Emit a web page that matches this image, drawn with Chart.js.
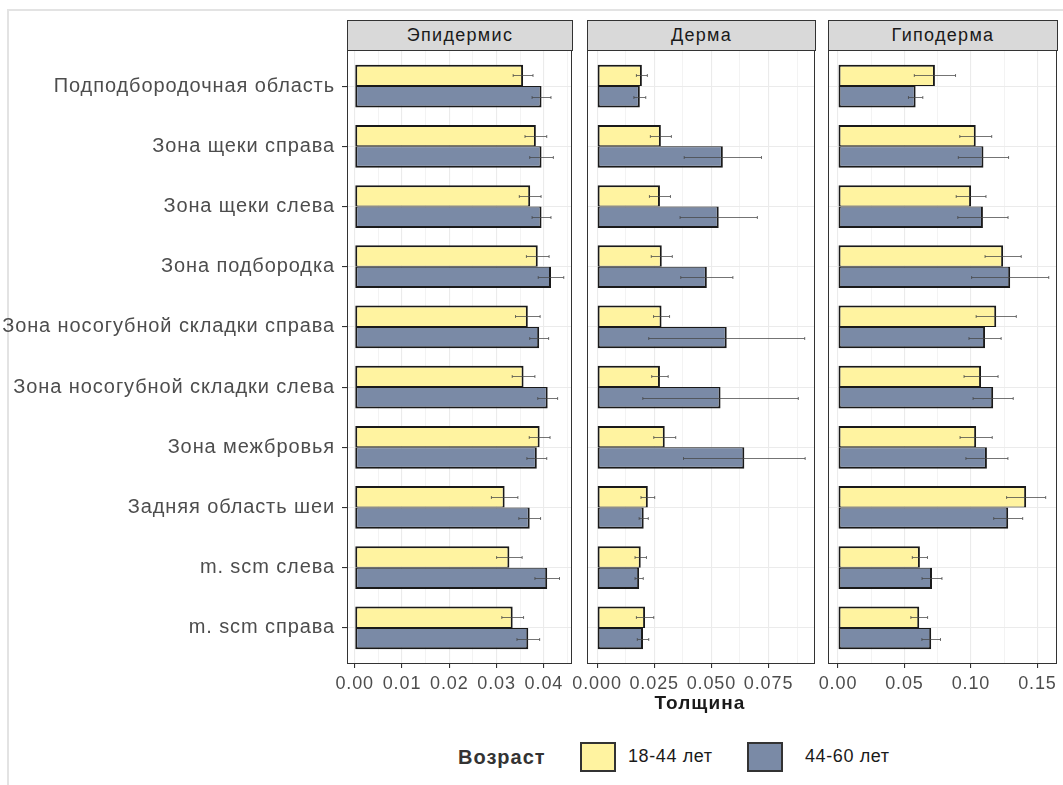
<!DOCTYPE html>
<html>
<head>
<meta charset="utf-8">
<script src="https://cdn.jsdelivr.net/npm/chart.js@4/dist/chart.umd.min.js"></script>
<style>
  html, body { margin: 0; padding: 0; background: #fff; }
  body { width: 1063px; height: 785px; position: relative; overflow: hidden;
         font-family: "Liberation Sans", Arial, sans-serif; }
  .frame { position: absolute; left: 7px; top: 9px; right: -4px; bottom: -4px;
           border-left: 2px solid #e3e3e3; border-top: 2px solid #e3e3e3; }
  canvas { position: absolute; }
  .strip { position: absolute; top: 20px; height: 31px; background: #d9d9d9;
           border: 1px solid #333; box-sizing: border-box; display: flex;
           align-items: center; justify-content: center; font-size: 18px;
           letter-spacing: 1.3px; color: #1a1a1a; }
  .axis-title { position: absolute; left: 600px; width: 200px; top: 692px; text-align: center;
                font-size: 19px; letter-spacing: 1.1px; font-weight: bold; color: #1a1a1a; }
  .legend-title { position: absolute; left: 458px; top: 746px; font-size: 20px; letter-spacing: 1px;
                  font-weight: bold; color: #333; }
  .key { position: absolute; top: 742px; width: 36px; height: 30px; box-sizing: border-box;
         border: 2px solid #333; }
  .key-label { position: absolute; top: 746px; font-size: 18px; letter-spacing: 0.6px; color: #1a1a1a; }
</style>
</head>
<body>
<div class="frame"></div>

<div class="strip" style="left:347px;width:226px">Эпидермис</div>
<div class="strip" style="left:587px;width:229px">Дерма</div>
<div class="strip" style="left:828px;width:230px">Гиподерма</div>

<canvas id="epid" width="575" height="664" style="left:0;top:40px"></canvas>
<canvas id="derma" width="258" height="664" style="left:560px;top:40px"></canvas>
<canvas id="hypo" width="259" height="664" style="left:801px;top:40px"></canvas>

<div class="axis-title">Толщина</div>

<div class="legend-title">Возраст</div>
<div class="key" id="keyYoung" style="left:580px"></div>
<div class="key-label" style="left:628px">18-44 лет</div>
<div class="key" id="keyOld" style="left:747px"></div>
<div class="key-label" style="left:805px">44-60 лет</div>

<script>
// Skin zones, top to bottom
const categories = [
  'Подподбородочная область',
  'Зона щеки справа',
  'Зона щеки слева',
  'Зона подбородка',
  'Зона носогубной складки справа',
  'Зона носогубной складки слева',
  'Зона межбровья',
  'Задняя область шеи',
  'm. scm слева',
  'm. scm справа'
];
const groupNames = ['18-44 лет', '44-60 лет'];

// Epidermis thickness: means and error half-widths
const epidYoung    = [0.0356, 0.0383, 0.0371, 0.0387, 0.0366, 0.0357, 0.0391, 0.0317, 0.0327, 0.0334];
const epidYoungErr = [0.0021, 0.0023, 0.0023, 0.0024, 0.0026, 0.0024, 0.0022, 0.0028, 0.0027, 0.0023];
const epidOld      = [0.0395, 0.0395, 0.0395, 0.0415, 0.0390, 0.0408, 0.0385, 0.0370, 0.0407, 0.0367];
const epidOldErr   = [0.0020, 0.0025, 0.0020, 0.0027, 0.0020, 0.0021, 0.0021, 0.0023, 0.0026, 0.0024];

// Dermis
const dermaYoung    = [0.0196, 0.0279, 0.0275, 0.0283, 0.0282, 0.0275, 0.0296, 0.0222, 0.0191, 0.0210];
const dermaYoungErr = [0.0024, 0.0046, 0.0046, 0.0046, 0.0035, 0.0036, 0.0048, 0.0030, 0.0025, 0.0038];
const dermaOld      = [0.0187, 0.0550, 0.0532, 0.0480, 0.0567, 0.0540, 0.0644, 0.0204, 0.0184, 0.0201];
const dermaOldErr   = [0.0026, 0.0169, 0.0169, 0.0114, 0.0341, 0.0340, 0.0266, 0.0020, 0.0018, 0.0025];

// Hypodermis
const hypoYoung    = [0.0729, 0.1036, 0.1001, 0.1242, 0.1190, 0.1076, 0.1039, 0.1415, 0.0616, 0.0611];
const hypoYoungErr = [0.0155, 0.0120, 0.0112, 0.0136, 0.0151, 0.0128, 0.0121, 0.0147, 0.0057, 0.0063];
const hypoOld      = [0.0584, 0.1094, 0.1090, 0.1295, 0.1106, 0.1167, 0.1120, 0.1280, 0.0707, 0.0701];
const hypoOldErr   = [0.0054, 0.0189, 0.0189, 0.0290, 0.0121, 0.0151, 0.0158, 0.0109, 0.0075, 0.0070];

// Tick labels of each panel's thickness axis
const epidTicks  = ['0.00', '0.01', '0.02', '0.03', '0.04'];
const dermaTicks = ['0.000', '0.025', '0.050', '0.075'];
const hypoTicks  = ['0.00', '0.05', '0.10', '0.15'];

const YOUNG_COLOR = '#FFF3A0';
const OLD_COLOR = '#7A8AA6';
const EDGE = '#1a1a1a';
document.getElementById('keyYoung').style.background = YOUNG_COLOR;
document.getElementById('keyOld').style.background = OLD_COLOR;

// Slightly open lettering for all canvas text
const letterSpacing = {
  id: 'letterSpacing',
  beforeDraw(chart) { chart.ctx.letterSpacing = '0.9px'; }
};

// Whiskers for each bar, drawn over the bars
const errorBars = {
  id: 'errorBars',
  afterDatasetsDraw(chart) {
    const ctx = chart.ctx;
    const xs = chart.scales.x;
    chart.data.datasets.forEach((ds, di) => {
      const meta = chart.getDatasetMeta(di);
      meta.data.forEach((bar, i) => {
        const v = ds.data[i].x, e = ds.errors[i];
        const x1 = xs.getPixelForValue(v - e);
        const x2 = xs.getPixelForValue(v + e);
        const y = Math.round(bar.y) + 0.5;
        ctx.save();
        ctx.strokeStyle = 'rgba(70,70,70,0.75)';
        ctx.lineWidth = 1;
        ctx.beginPath();
        ctx.moveTo(x1, y); ctx.lineTo(x2, y);
        ctx.moveTo(x1, y - 1.5); ctx.lineTo(x1, y + 1.5);
        ctx.moveTo(x2, y - 1.5); ctx.lineTo(x2, y + 1.5);
        ctx.stroke();
        ctx.restore();
      });
    });
  }
};

// Panel outline on top of everything
const panelBorder = {
  id: 'panelBorder',
  afterDraw(chart) {
    const { ctx, chartArea: a } = chart;
    ctx.save();
    ctx.strokeStyle = '#333';
    ctx.lineWidth = 1;
    ctx.strokeRect(Math.round(a.left) + 0.5, Math.round(a.top) + 0.5,
                   Math.round(a.right - a.left) - 1, Math.round(a.bottom - a.top) - 1);
    ctx.restore();
  }
};

function makePanel(id, young, youngErr, old, oldErr, xMin, xMax, step, tickLabels, showCats, yWidth) {
  const points = arr => arr.map((v, i) => ({ x: v, y: i }));
  const majors = tickLabels.map(t => parseFloat(t));
  const allTicks = [];
  for (let k = 0; k * step / 2 <= xMax + 1e-9; k++) allTicks.push(+(k * step / 2).toFixed(6));
  const isMajor = v => majors.some(m => Math.abs(m - v) < 1e-9);

  return new Chart(document.getElementById(id), {
    type: 'bar',
    data: {
      datasets: [
        { label: groupNames[0], data: points(young), errors: youngErr,
          backgroundColor: YOUNG_COLOR, borderColor: EDGE,
          borderWidth: { top: 2, left: 2, right: 2, bottom: 1 }, borderSkipped: false },
        { label: groupNames[1], data: points(old), errors: oldErr,
          backgroundColor: OLD_COLOR, borderColor: EDGE,
          borderWidth: { top: 1, left: 2, right: 2, bottom: 2 }, borderSkipped: false }
      ]
    },
    options: {
      indexAxis: 'y',
      responsive: false,
      animation: false,
      layout: { padding: { top: 10, right: 3, left: 0, bottom: 0 } },
      categoryPercentage: 0.71,
      barPercentage: 1.0,
      plugins: { legend: { display: false }, tooltip: { enabled: false } },
      scales: {
        x: {
          type: 'linear', min: xMin, max: xMax,
          afterBuildTicks: s => { s.ticks = allTicks.map(v => ({ value: v })); },
          afterFit: s => { s.height = 40; s.paddingLeft = 0; s.paddingRight = 0; },
          border: { display: false },
          grid: {
            color: '#EBEBEB',
            lineWidth: c => (c.tick && isMajor(c.tick.value)) ? 1.1 : 0.6,
            tickColor: c => (c.tick && isMajor(c.tick.value)) ? '#333' : 'rgba(0,0,0,0)',
            tickLength: 4
          },
          ticks: {
            autoSkip: false, maxRotation: 0, padding: 5,
            color: '#4d4d4d',
            font: { family: 'Liberation Sans', size: 18 },
            callback: v => {
              const k = majors.findIndex(m => Math.abs(m - v) < 1e-9);
              return k >= 0 ? tickLabels[k] : '';
            }
          }
        },
        y: {
          type: 'linear', min: -0.6, max: 9.6, reverse: true, offset: false,
          afterBuildTicks: s => { s.ticks = categories.map((c, i) => ({ value: i })); },
          afterFit: s => { s.width = yWidth; s.paddingTop = 0; s.paddingBottom = 0; },
          border: { display: false },
          grid: { color: '#EBEBEB', lineWidth: 1.1, tickColor: '#333', offset: false,
                  tickLength: 5, drawTicks: showCats },
          ticks: {
            display: showCats, autoSkip: false, padding: 7,
            color: '#4d4d4d',
            font: { family: 'Liberation Sans', size: 20 },
            callback: v => categories[Math.round(v)]
          }
        }
      }
    },
    plugins: [letterSpacing, errorBars, panelBorder]
  });
}

makePanel('epid', epidYoung, epidYoungErr, epidOld, epidOldErr, -0.00163, 0.04594, 0.01, epidTicks, true, 347);
makePanel('derma', dermaYoung, dermaYoungErr, dermaOld, dermaOldErr, -0.0044, 0.0953, 0.025, dermaTicks, false, 27);
makePanel('hypo', hypoYoung, hypoYoungErr, hypoOld, hypoOldErr, -0.0075, 0.1647, 0.05, hypoTicks, false, 27);
</script>
</body>
</html>
